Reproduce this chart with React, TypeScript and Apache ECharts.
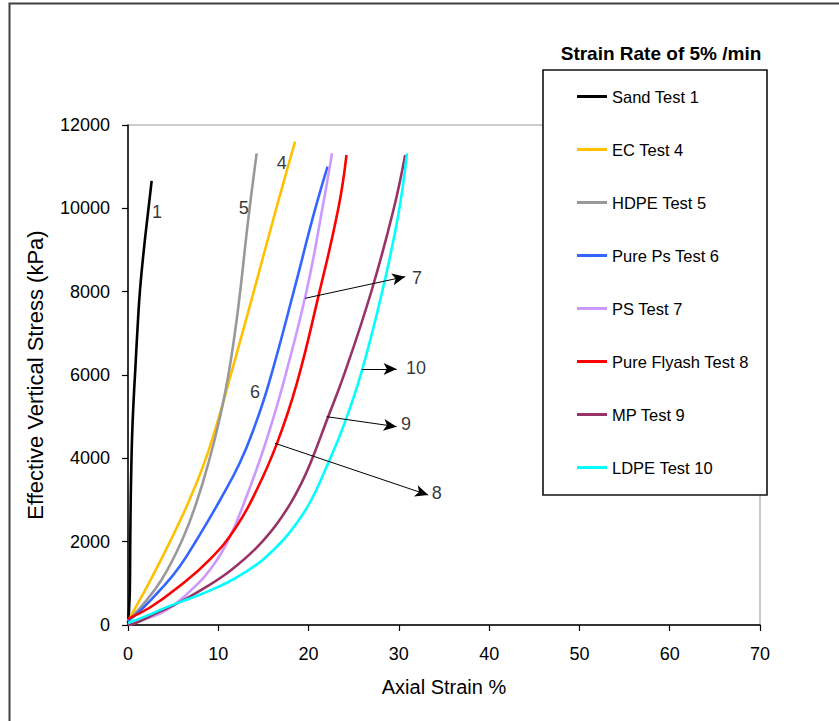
import React, { useEffect, useRef } from "react";
import * as echarts from "echarts";

// ---- Data ----
const seriesNames = [
  "Sand Test 1",
  "EC Test 4",
  "HDPE Test 5",
  "Pure Ps Test 6",
  "PS Test 7",
  "Pure Flyash Test 8",
  "MP Test 9",
  "LDPE Test 10",
];
const seriesColors = ["#000000", "#FFC000", "#999999", "#3366FF", "#CC99FF", "#FF0000", "#993366", "#00FFFF"];

const sandTest1 = [[0, 50], [0.1, 300], [0.2, 800], [0.25, 2000], [0.3, 3000], [0.36, 3700], [0.45, 4500], [0.6, 5300], [0.8, 6100], [1.05, 7100], [1.33, 8040], [1.8, 9100], [2.25, 9960], [2.62, 10660]];
const ecTest4 = [[0, 100], [2.3, 1000], [4.65, 2000], [6.5, 2850], [8.3, 3800], [9.7, 4720], [11, 5700], [13.8, 7900], [16.3, 9900], [18.5, 11600]];
const hdpeTest5 = [[0, 100], [1.3, 400], [3.7, 1080], [6.0, 2040], [7.6, 2950], [9.0, 3960], [10.2, 5000], [11.2, 6100], [12.2, 7600], [13.3, 9700], [14.25, 11320]];
const purePsTest6 = [[0, 100], [1.3, 330], [3.9, 920], [5.7, 1400], [7.6, 2040], [10.2, 3000], [12.4, 3900], [14, 4750], [15.6, 5800], [18.4, 8040], [20.5, 9800], [22.1, 11000]];
const psTest7 = [[0, 0], [2, 150], [4.3, 360], [7.2, 880], [9.5, 1450], [11.3, 2120], [12.8, 2900], [14.6, 3960], [16, 4900], [17.4, 5960], [19.8, 8040], [21.5, 9960], [22.6, 11320]];
const pureFlyashTest8 = [[0, 150], [2.44, 420], [5.4, 880], [9.1, 1580], [12, 2360], [14.25, 3240], [16.5, 4360], [18.7, 5800], [21.1, 7900], [23.3, 10000], [24.2, 11280]];
const mpTest9 = [[0, 0], [1, 60], [3.2, 290], [6, 580], [8.7, 920], [10.5, 1170], [12, 1420], [13.5, 1700], [15, 2030], [16.5, 2430], [18, 2920], [19.2, 3400], [20.2, 3880], [22, 4900], [24, 6050], [27, 8040], [29.4, 9960], [30.7, 11280]];
const ldpeTest10 = [[0, 50], [2.4, 250], [4.3, 430], [7, 650], [9, 820], [11, 1020], [13, 1270], [15, 1580], [17.2, 2040], [18.8, 2480], [20.3, 3000], [22, 3800], [24, 4850], [25.9, 6100], [28.1, 7950], [29.9, 9800], [30.9, 11320]];

const seriesData = [sandTest1, ecTest4, hdpeTest5, purePsTest6, psTest7, pureFlyashTest8, mpTest9, ldpeTest10];

// annotation numbers placed next to the curves
const annotLabels = ["1", "5", "4", "6", "7", "10", "9", "8"];
const annotX = [3.2, 12.83, 17.02, 14.07, 32.0, 31.9, 30.8, 34.2];
const annotY = [9912, 10000, 11088, 5600, 8340, 6168, 4824, 3180];

// arrows: [x1, y1, x2, y2]
const arrows = [
  [19.6, 7840, 30.7, 8360],
  [25.9, 6144, 29.75, 6144],
  [22.0, 5000, 29.75, 4760],
  [16.3, 4360, 33.25, 3120],
];

const xTicks = { min: 0, max: 70, interval: 10 };
const yTicks = { min: 0, max: 12000, interval: 2000 };

const FONT = "'Liberation Sans', Arial, Helvetica, sans-serif";

export default function App() {
  const ref = useRef<HTMLDivElement>(null);
  useEffect(() => {
    if (!ref.current) return;
    const chart = echarts.init(ref.current, undefined, { renderer: "svg" });
    const lineSeries = seriesNames.map((name, i) => ({
      name,
      type: "line",
      data: seriesData[i],
      showSymbol: false,
      symbol: "none",
      smooth: 0.45,
      lineStyle: { color: seriesColors[i], width: 2.6 },
      itemStyle: { color: seriesColors[i] },
      z: 2,
    }));
    const option = {
      animation: false,
      backgroundColor: "#ffffff",
      textStyle: { fontFamily: FONT },
      grid: {
        left: 128,
        right: 79,
        top: 125,
        bottom: 96,
        show: true,
        borderColor: "#999999",
        borderWidth: 1,
        backgroundColor: "transparent",
      },
      xAxis: {
        type: "value",
        min: xTicks.min,
        max: xTicks.max,
        interval: xTicks.interval,
        name: "Axial Strain %",
        nameLocation: "middle",
        nameGap: 52,
        nameTextStyle: { fontSize: 20, color: "#000", fontFamily: FONT },
        axisLine: { lineStyle: { color: "#000", width: 1.5 } },
        axisTick: { show: true, length: 6, lineStyle: { color: "#000", width: 1.2 } },
        axisLabel: { fontSize: 18, color: "#000", margin: 20, fontFamily: FONT, formatter: (v: number) => String(v) },
        splitLine: { show: false },
      },
      yAxis: {
        type: "value",
        min: yTicks.min,
        max: yTicks.max,
        interval: yTicks.interval,
        name: "Effective Vertical Stress (kPa)",
        nameLocation: "middle",
        nameGap: 82,
        nameRotate: 90,
        nameTextStyle: { fontSize: 22, color: "#000", fontFamily: FONT },
        axisLine: { show: true, lineStyle: { color: "#000", width: 1.5 } },
        axisTick: { show: true, length: 6, lineStyle: { color: "#000", width: 1.2 } },
        axisLabel: { fontSize: 18, color: "#000", margin: 18, fontFamily: FONT, formatter: (v: number) => String(v) },
        splitLine: { show: false },
      },
      legend: {
        data: seriesNames,
        orient: "vertical",
        left: 577,
        top: 88,
        icon: "rect",
        itemWidth: 30,
        itemHeight: 3,
        itemGap: 36,
        padding: 0,
        textStyle: { fontSize: 16.5, color: "#000", fontFamily: FONT, lineHeight: 16 },
        z: 5,
      },
      graphic: [
        {
          type: "polyline",
          shape: { points: [[9.5, 721], [9.5, 3.5], [839, 3.5]] },
          style: { stroke: "#404040", lineWidth: 2, fill: "none" },
          z: 1,
        },
        {
          type: "rect",
          shape: { x: 543, y: 70, width: 224, height: 425 },
          style: { fill: "#ffffff", stroke: "#111111", lineWidth: 1.6 },
          z: 3,
        },
        {
          type: "text",
          x: 661,
          y: 53,
          style: {
            text: "Strain Rate of 5% /min",
            font: `bold 19px ${FONT}`,
            fill: "#000",
            textAlign: "center",
            textVerticalAlign: "middle",
          },
          z: 3,
        },
      ],
      series: [
        ...lineSeries,
        {
          name: "annotations",
          type: "scatter",
          symbolSize: 1,
          itemStyle: { color: "rgba(0,0,0,0)" },
          data: annotLabels.map((t, i) => [annotX[i], annotY[i], t]),
          label: {
            show: true,
            position: "inside",
            formatter: (p: any) => p.data[2],
            fontSize: 18,
            color: "#000",
            fontFamily: FONT,
          },
          silent: true,
          z: 3,
          markLine: {
            silent: true,
            symbol: ["none", "arrow"],
            symbolSize: [9, 13],
            lineStyle: { color: "#000", width: 1, type: "solid" },
            label: { show: false },
            data: arrows.map((a) => [{ coord: [a[0], a[1]] }, { coord: [a[2], a[3]] }]),
          },
        },
      ],
    };
    chart.setOption(option as any);
    return () => chart.dispose();
  }, []);
  return <div ref={ref} style={{ width: 839, height: 721, position: "absolute", left: 0, top: 0 }} />;
}
